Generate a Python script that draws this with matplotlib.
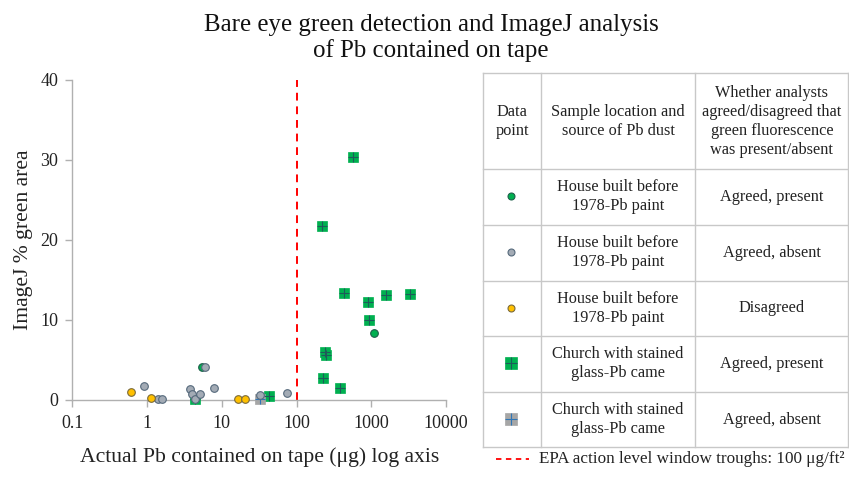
import matplotlib
matplotlib.use("Agg")
import matplotlib.pyplot as plt

plt.rcParams['font.family'] = ['Liberation Serif', 'DejaVu Serif']

# data (x = Pb on tape in ug, y = ImageJ % green area)
house_present_x = [5.46, 1074]
house_present_y = [4.1, 8.4]

house_absent_x = [0.90, 1.40, 1.60, 3.7, 3.95, 4.37, 5.1, 6.05, 7.8, 32.4, 73.6]
house_absent_y = [1.75, 0.1, 0.1, 1.35, 0.7, 0.15, 0.75, 4.08, 1.46, 0.6, 0.83]

disagreed_x = [0.61, 1.12, 16.5, 20.3]
disagreed_y = [1.04, 0.3, 0.1, 0.1]

church_present_x = [4.37, 42.7, 563, 218, 427, 903, 1552, 3280, 921, 241, 246, 224, 386]
church_present_y = [0.08, 0.55, 30.4, 21.75, 13.4, 12.2, 13.1, 13.2, 10.0, 6.04, 5.6, 2.8, 1.55]

church_absent_x = [32.4]
church_absent_y = [0.1]

epa_level = 100
x_ticks = [0.1, 1, 10, 100, 1000, 10000]
x_ticklabels = ['0.1', '1', '10', '100', '1000', '10000']
y_ticks = [0, 10, 20, 30, 40]

header = ["Data\npoint", "Sample location and\nsource of Pb dust",
          "Whether analysts\nagreed/disagreed that\ngreen fluorescence\nwas present/absent"]
row_source = ["House built before\n1978-Pb paint"] * 3 + ["Church with stained\nglass-Pb came"] * 2
row_result = ["Agreed, present", "Agreed, absent", "Disagreed",
              "Agreed, present", "Agreed, absent"]

GREEN = '#00b050'
GREEN_EDGE = '#1d5e4a'
GRAY = '#a3abb5'
GRAY_EDGE = '#566a7c'
YELLOW = '#ffc000'
YELLOW_EDGE = '#7a6a3a'
SQ_GRAY = '#a6a6a6'
AXIS_GRAY = '#b0b0b0'

W, H = 849, 479
fig = plt.figure(figsize=(W / 100, H / 100), dpi=100)

# main scatter axes, placed in pixel terms
x0, x1, y0, y1 = 72.3, 446, 80, 400
ax = fig.add_axes([x0 / W, 1 - y1 / H, (x1 - x0) / W, (y1 - y0) / H])
ax.set_xscale('log')
ax.set_xlim(0.1, 10000)
ax.set_ylim(0, 40)

# squares with a cross
ax.plot(church_present_x, church_present_y, 's', ms=7.5, mfc=GREEN, mec=GREEN,
        mew=0.5, ls='none', zorder=3, clip_on=False)
ax.plot(church_present_x, church_present_y, '+', ms=7.5, mec='#1f5a5a',
        mew=0.8, ls='none', zorder=3.1, clip_on=False)
ax.plot(church_absent_x, church_absent_y, 's', ms=7.5, mfc=SQ_GRAY, mec=SQ_GRAY,
        mew=0.5, ls='none', zorder=3, clip_on=False)
ax.plot(church_absent_x, church_absent_y, '+', ms=7.5, mec='#2e75b6',
        mew=0.8, ls='none', zorder=3.1, clip_on=False)

# circles
ax.plot(house_present_x, house_present_y, 'o', ms=5.5, mfc=GREEN, mec=GREEN_EDGE,
        mew=0.8, ls='none', zorder=4, clip_on=False)
ax.plot(house_absent_x, house_absent_y, 'o', ms=5.5, mfc=GRAY, mec=GRAY_EDGE,
        mew=0.8, ls='none', zorder=4.1, clip_on=False)
ax.plot(disagreed_x, disagreed_y, 'o', ms=5.5, mfc=YELLOW, mec=YELLOW_EDGE,
        mew=0.8, ls='none', zorder=4.2, clip_on=False)

ax.axvline(epa_level, color='#ff0000', ls=(0, (4, 3)), lw=1.4, zorder=2)

for s in ['top', 'right']:
    ax.spines[s].set_visible(False)
for s in ['left', 'bottom']:
    ax.spines[s].set_color(AXIS_GRAY)
    ax.spines[s].set_linewidth(1.0)

ax.set_xticks(x_ticks)
ax.set_xticklabels(x_ticklabels)
ax.minorticks_off()
ax.set_yticks(y_ticks)
ax.tick_params(axis='both', colors=AXIS_GRAY, labelcolor='#222222', labelsize=13,
               length=5, width=1)
ax.tick_params(axis='x', pad=6)
ax.tick_params(axis='y', pad=5)
ax.set_xlabel("Actual Pb contained on tape (\u03bcg) log axis", fontsize=15.6,
              color='#222222', labelpad=11)
ax.set_ylabel("ImageJ % green area", fontsize=15.6, color='#222222', labelpad=5)

fig.text(431 / W, 1 - 38 / H,
         "Bare eye green detection and ImageJ analysis\nof Pb contained on tape",
         ha='center', va='center', fontsize=17.9, linespacing=1.12, color='#111111')

# overlay axes in pixel coordinates for the key table
ov = fig.add_axes([0, 0, 1, 1])
ov.set_xlim(0, W)
ov.set_ylim(H, 0)
ov.axis('off')

line_kw = dict(color='#c8c8c8', lw=1.0)
cols = [483.3, 541, 695.3, 848.5]
rows = [72.7, 168.7, 225, 280.7, 336, 391.7, 447.3]
for c in cols:
    ov.plot([c, c], [rows[0], rows[-1]], **line_kw)
for r in rows:
    ov.plot([cols[0], cols[-1]], [r, r], **line_kw)

cx = [(cols[i] + cols[i + 1]) / 2 for i in range(3)]
txt_kw = dict(ha='center', va='center', fontsize=11.7, color='#222222', linespacing=1.25)
hy = (rows[0] + rows[1]) / 2 + 1
for i, h in enumerate(header):
    ov.text(cx[i], hy, h, **txt_kw)

for i in range(5):
    ry = (rows[i + 1] + rows[i + 2]) / 2
    ov.text(cx[1], ry, row_source[i], **txt_kw)
    ov.text(cx[2], ry, row_result[i], **txt_kw)

key_styles = [
    dict(marker='o', ms=5, mfc=GREEN, mec=GREEN_EDGE, mew=0.8),
    dict(marker='o', ms=5, mfc=GRAY, mec=GRAY_EDGE, mew=0.8),
    dict(marker='o', ms=5, mfc=YELLOW, mec=YELLOW_EDGE, mew=0.8),
    dict(marker='s', ms=8, mfc=GREEN, mec=GREEN, mew=0.5),
    dict(marker='s', ms=8, mfc=SQ_GRAY, mec=SQ_GRAY, mew=0.5),
]
for i, st in enumerate(key_styles):
    ry = (rows[i + 1] + rows[i + 2]) / 2 - 0.5
    ov.plot([cx[0] - 1], [ry], ls='none', **st)
    if i == 3:
        ov.plot([cx[0] - 1], [ry], '+', ms=8, mec='#1f5a5a', mew=0.8)
    if i == 4:
        ov.plot([cx[0] - 1], [ry], '+', ms=8, mec='#2e75b6', mew=0.8)

ov.plot([496, 529], [459, 459], color='#ff0000', ls=(0, (3, 2.5)), lw=1.3)
ov.text(539, 459, "EPA action level window troughs: 100 \u03bcg/ft\u00b2",
        ha='left', va='center', fontsize=12.3, color='#222222')

fig.savefig('out.png', dpi=100)
